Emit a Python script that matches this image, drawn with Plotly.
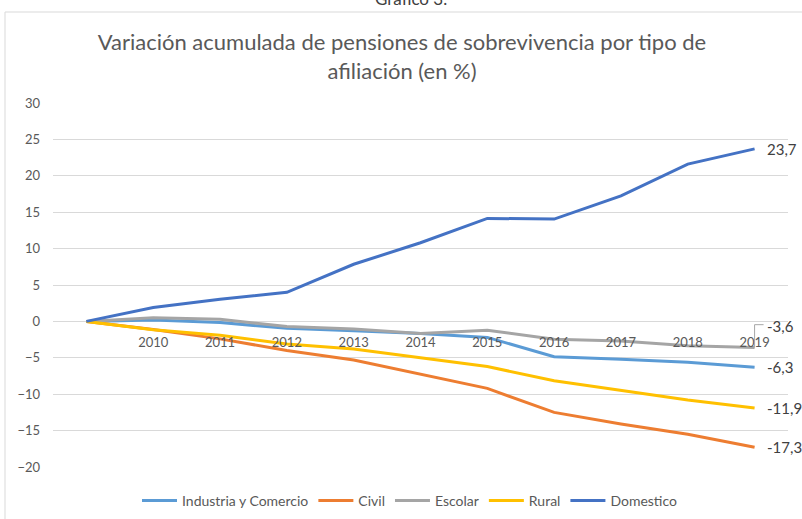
import plotly.graph_objects as go

years = list(range(2009, 2020))
tick_years = list(range(2010, 2020))

industria = [0, 0.2, -0.15, -0.95, -1.3, -1.65, -2.2, -4.85, -5.2, -5.6, -6.3]
civil = [0, -1.1, -2.4, -4.0, -5.3, -7.2, -9.2, -12.5, -14.1, -15.5, -17.3]
escolar = [0, 0.5, 0.3, -0.7, -1.05, -1.65, -1.2, -2.45, -2.7, -3.35, -3.6]
rural = [0, -1.15, -1.9, -3.1, -3.8, -4.95, -6.2, -8.15, -9.5, -10.8, -11.9]
domestico = [0, 1.9, 3.05, 4.0, 7.85, 10.8, 14.15, 14.05, 17.25, 21.6, 23.7]

series = [
    ("Industria y Comercio", industria, "#5B9BD5"),
    ("Civil", civil, "#ED7D31"),
    ("Escolar", escolar, "#A5A5A5"),
    ("Rural", rural, "#FFC000"),
    ("Domestico", domestico, "#4472C4"),
]

FONT = "Lato"
W, H = 802, 519
ml, mr, mt, mb = 53, 14, 103, 52

fig = go.Figure()
for name, vals, col in series:
    fig.add_trace(go.Scatter(x=years, y=vals, name=name, mode="lines",
                             line=dict(color=col, width=3)))

# end-of-line value labels
for name, vals, col in series:
    ys = 0
    if name == "Escolar":
        ys = 22
    fig.add_annotation(x=years[-1], y=vals[-1], xref="x", yref="y",
                       text=f"{vals[-1]:.1f}".replace(".", ","),
                       showarrow=False, xanchor="left", xshift=10, yshift=ys,
                       font=dict(family=FONT, size=15, color="#404040"))

# leader line for Escolar label
fig.add_shape(type="line", xref="x", yref="y", x0=years[-1], x1=years[-1],
              y0=escolar[-1], y1=-0.45, line=dict(color="#A6A6A6", width=1))
fig.add_shape(type="line", xref="x", yref="y", xsizemode="pixel", xanchor=years[-1],
              x0=0, x1=9, y0=-0.45, y1=-0.45, line=dict(color="#A6A6A6", width=1))

# chart border
pw = W - ml - mr
ph = H - mt - mb
fig.add_shape(type="rect", xref="paper", yref="paper",
              x0=(5 - ml) / pw, x1=(W + 5 - ml) / pw,
              y0=(H - mb - (H + 10)) / ph, y1=(H - mb - 12) / ph,
              line=dict(color="#D9D9D9", width=1), layer="below")

# cut-off caption at the very top
fig.add_annotation(xref="paper", yref="paper", x=(411 - ml) / pw, y=(H - mb - 11) / ph,
                   text="Gráfico 3.", showarrow=False, yanchor="bottom",
                   font=dict(family=FONT, size=17, color="#404040"))

fig.update_layout(
    width=W, height=H,
    margin=dict(l=ml, r=mr, t=mt, b=mb, autoexpand=False),
    paper_bgcolor="white", plot_bgcolor="white",
    title=dict(text="Variación acumulada de pensiones de sobrevivencia por tipo de<br>afiliación (en %)",
               x=402 / W, xref="container", xanchor="center",
               y=1 - 50 / H, yanchor="middle",
               font=dict(family=FONT, size=22, color="#595959")),
    font=dict(family=FONT, size=13, color="#595959"),
    showlegend=True,
    legend=dict(orientation="h", x=410 / W, xanchor="center", xref="container",
                yref="container", y=(H - 501) / H, yanchor="middle",
                font=dict(family=FONT, size=14, color="#595959"),
                itemwidth=35, tracegroupgap=0),
    xaxis=dict(range=[2008.5, 2019.5], tickvals=tick_years, showgrid=False,
               showline=False, zeroline=False, anchor="free", position=0.4,
               automargin=False, ticks="", ticklabelstandoff=12,
               tickfont=dict(family=FONT, size=13, color="#595959")),
    yaxis=dict(range=[-20, 30], dtick=5, showgrid=True, gridcolor="#D9D9D9",
               gridwidth=1, zeroline=False, showline=False, ticks="",
               ticklabelstandoff=12, automargin=False,
               tickfont=dict(family=FONT, size=13, color="#595959")),
)

fig.write_html("out.html", config={"displayModeBar": False},
               post_script="document.body.style.margin='0';")
